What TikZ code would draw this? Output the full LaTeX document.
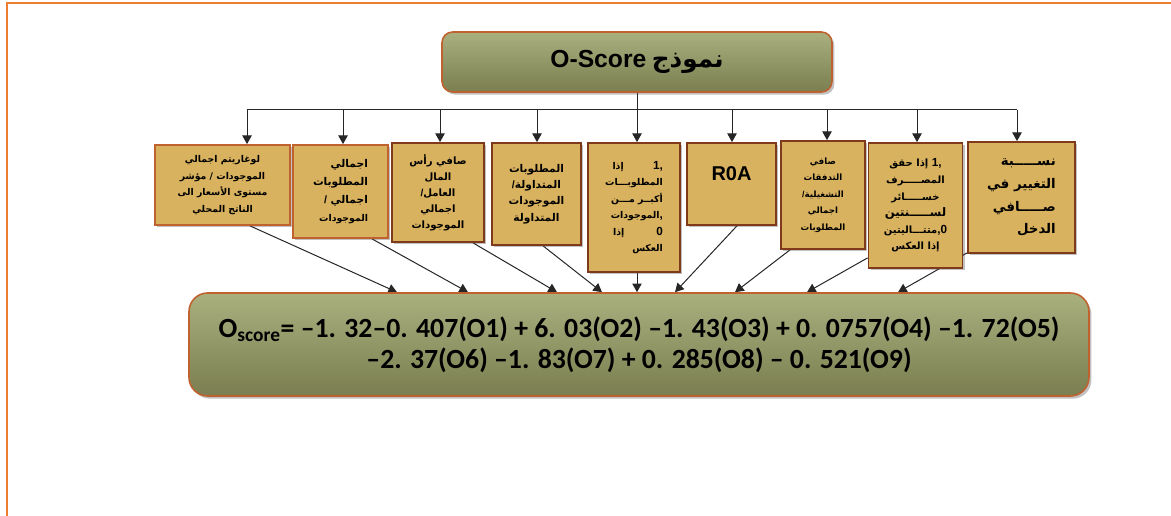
\documentclass[tikz,border=0pt]{standalone}
\usepackage{fontspec}
\TeXXeTstate=1
\setmainfont{Carlito}
\newfontfamily\arabicfont[Script=Arabic]{DejaVu Sans}
\newfontfamily\latinb{Liberation Sans}
\usetikzlibrary{shadows,arrows.meta,backgrounds}
\definecolor{boxfill}{HTML}{D9B25F}
\definecolor{boxedge}{HTML}{7E3A1B}
\definecolor{boxedgeo}{HTML}{C0622F}
\definecolor{gtop}{HTML}{A9B07E}
\definecolor{gbot}{HTML}{7A7E50}
\definecolor{frameor}{HTML}{ED7D31}
\newcommand\ar[1]{{\arabicfont\bfseries\beginR #1\endR}}
\newcommand\lt[1]{{\latinb\bfseries #1}}
\newcommand\dg[1]{{\latinb\bfseries\fontsize{8.8}{12}\selectfont #1}}
\tikzset{
  factor/.style={draw=boxedge, line width=1.3pt, fill=boxfill, inner sep=1pt, align=center,
    font=\arabicfont\bfseries\fontsize{7}{12.4}\selectfont,
    drop shadow={shadow xshift=1.8pt, shadow yshift=-1.8pt, opacity=0.35, fill=black!70}},
  greenbox/.style={draw=boxedgeo, line width=1.2pt, top color=gtop, bottom color=gbot,
    drop shadow={shadow xshift=1.8pt, shadow yshift=-2pt, opacity=0.35, fill=black!70}},
  conn/.style={line width=0.75pt, draw=black!85},
  arr/.style={conn, -{Triangle[width=7pt,length=6.5pt]}},
  framel/.style={draw=frameor, line width=1.6pt}
}
\begin{document}
\begin{tikzpicture}[x=0.75pt,y=-0.75pt]
\useasboundingbox (0,0) rectangle (1171,516);
\draw[framel] (7,516) -- (7,3) -- (1171,3);

% title
\node[greenbox, rounded corners=8pt, minimum width=292.5pt, minimum height=45pt,
  font=\bfseries\fontsize{18.5}{20}\selectfont] (title) at (637,62)
  {\lt{O-Score} \ar{نموذج}};

% factor boxes
\node[factor, draw=boxedgeo, minimum width=101.25pt, minimum height=60pt] (b1) at (222.5,185)
  {\ar{لوغاريتم اجمالي}\\ \ar{الموجودات / مؤشر}\\ \ar{مستوى الأسعار الى}\\ \ar{الناتج المحلي}};
\node[factor, draw=boxedgeo, minimum width=71.25pt, minimum height=69.75pt, align=right,
  font=\arabicfont\bfseries\fontsize{8}{13.5}\selectfont] (b2) at (340.5,191.5)
  {\ar{اجمالي}\\ \ar{المطلوبات}\\ \lt{/}\ \ar{اجمالي}\\ {\fontsize{7}{12}\selectfont\ar{الموجودات}}};
\node[factor, minimum width=69pt, minimum height=74.25pt,
  font=\arabicfont\bfseries\fontsize{7.6}{12}\selectfont] (b3) at (438,192.5)
  {\ar{صافي رأس}\\ \ar{المال}\\ \lt{/}\ar{العامل}\\ \ar{اجمالي}\\ \ar{الموجودات}};
\node[factor, minimum width=66.75pt, minimum height=76.5pt,
  font=\arabicfont\bfseries\fontsize{8}{12.2}\selectfont] (b4) at (536.5,194)
  {\ar{المطلوبات}\\ \lt{/}\ar{المتداولة}\\ \ar{الموجودات}\\ \ar{المتداولة}};
\node[factor, minimum width=69pt, minimum height=96.75pt, align=right] (b5) at (634,207.5)
  {\ar{إذا}\hspace{22pt}\dg{1,}\\ \ar{المطلوبـــات}\\ \ar{أكبــر مـــن}\\ \ar{الموجودات}\dg{,}\\ \ar{إذا}\hspace{24pt}\dg{0}\\ \ar{العكس}};
\node[factor, minimum width=66.75pt, minimum height=61.5pt,
  font=\latinb\bfseries\fontsize{15}{17}\selectfont] (b6) at (731.5,184)
  {\raisebox{16pt}{R0A}};
\node[factor, minimum width=63pt, minimum height=81pt,
  font=\arabicfont\bfseries\fontsize{6.5}{12.4}\selectfont] (b7) at (823,195)
  {\ar{صافي}\\ \ar{التدفقات}\\ \lt{/}\ar{التشغيلية}\\ \ar{اجمالي}\\ \ar{المطلوبات}};
\node[factor, minimum width=70.5pt, minimum height=93.75pt,
  font=\arabicfont\bfseries\fontsize{7.5}{12.4}\selectfont] (b8) at (915.5,205.5)
  {\ar{إذا حقق} \dg{1,}\\ \ar{المصـــــرف}\\ \ar{خســـــائر}\\ {\fontsize{8.8}{12}\selectfont\ar{لســـــنتين}}\\ \ar{متتـــاليتين}\dg{,0}\\ \ar{إذا العكس}};
\node[factor, minimum width=80.25pt, minimum height=83.25pt, align=right,
  font=\arabicfont\bfseries\fontsize{10}{17}\selectfont] (b9) at (1021.5,197.5)
  {\ar{نســـــبة}\\ \ar{التغيير في}\\ \ar{صـــــافي}\\ \ar{الدخل}};

% result box
\node[greenbox, rounded corners=14pt, minimum width=675pt, minimum height=77.25pt, align=center,
  font=\bfseries\fontsize{20.8}{23.5}\selectfont] (res) at (639,344.5)
  {O\textsubscript{score}= –1. 32–0. 407(O1) + 6. 03(O2) –1. 43(O3) + 0. 0757(O4) –1. 72(O5)\\
   –2. 37(O6) –1. 83(O7) + 0. 285(O8) – 0. 521(O9)};

% bus coordinates
\coordinate (busL) at (247,110);
\coordinate (busR) at (1017,110);
\coordinate (t1) at (247,110);
\coordinate (t2) at (343,110);
\coordinate (t3) at (440,110);
\coordinate (t4) at (537,110);
\coordinate (t5) at (637,110);
\coordinate (t6) at (732,110);
\coordinate (t7) at (827,110);
\coordinate (t8) at (917,110);
\coordinate (t9) at (1017,110);
\coordinate (e1) at (397,300);
\coordinate (e2) at (468,300);
\coordinate (e3) at (557,300);
\coordinate (e4) at (602,300);
\coordinate (e5) at (637,300);
\coordinate (e6) at (675,300);
\coordinate (e7) at (735,300);
\coordinate (e8) at (807,300);
\coordinate (e9) at (898,300);

\begin{scope}[on background layer]
\draw[conn] (title.south) -- (title.south |- busL);
\draw[conn] (busL) -- (busR);
\draw[arr] (t1) -- (t1 |- b1.north);
\draw[arr] (t2) -- (t2 |- b2.north);
\draw[arr] (t3) -- (t3 |- b3.north);
\draw[arr] (t4) -- (t4 |- b4.north);
\draw[arr] (t5) -- (t5 |- b5.north);
\draw[arr] (t6) -- (t6 |- b6.north);
\draw[arr] (t7) -- (t7 |- b7.north);
\draw[arr] (t8) -- (t8 |- b8.north);
\draw[arr] (t9) -- (t9 |- b9.north);
\draw[arr] ([xshift=20.6pt]b1.south) -- (e1 |- res.north);
\draw[arr] ([xshift=23.6pt]b2.south) -- (e2 |- res.north);
\draw[arr] ([xshift=26.25pt]b3.south) -- (e3 |- res.north);
\draw[arr] ([xshift=4.9pt]b4.south) -- (e4 |- res.north);
\draw[arr] ([xshift=2.25pt]b5.south) -- (e5 |- res.north);
\draw[arr] ([xshift=4.1pt]b6.south) -- (e6 |- res.north);
\draw[arr] ([xshift=-24.75pt]b7.south) -- (e7 |- res.north);
\draw[arr] ([yshift=8.25pt]b8.south west) -- (e8 |- res.north);
\draw[arr] ([yshift=0.75pt]b9.south west) -- (e9 |- res.north);
\end{scope}
\end{tikzpicture}
\end{document}
